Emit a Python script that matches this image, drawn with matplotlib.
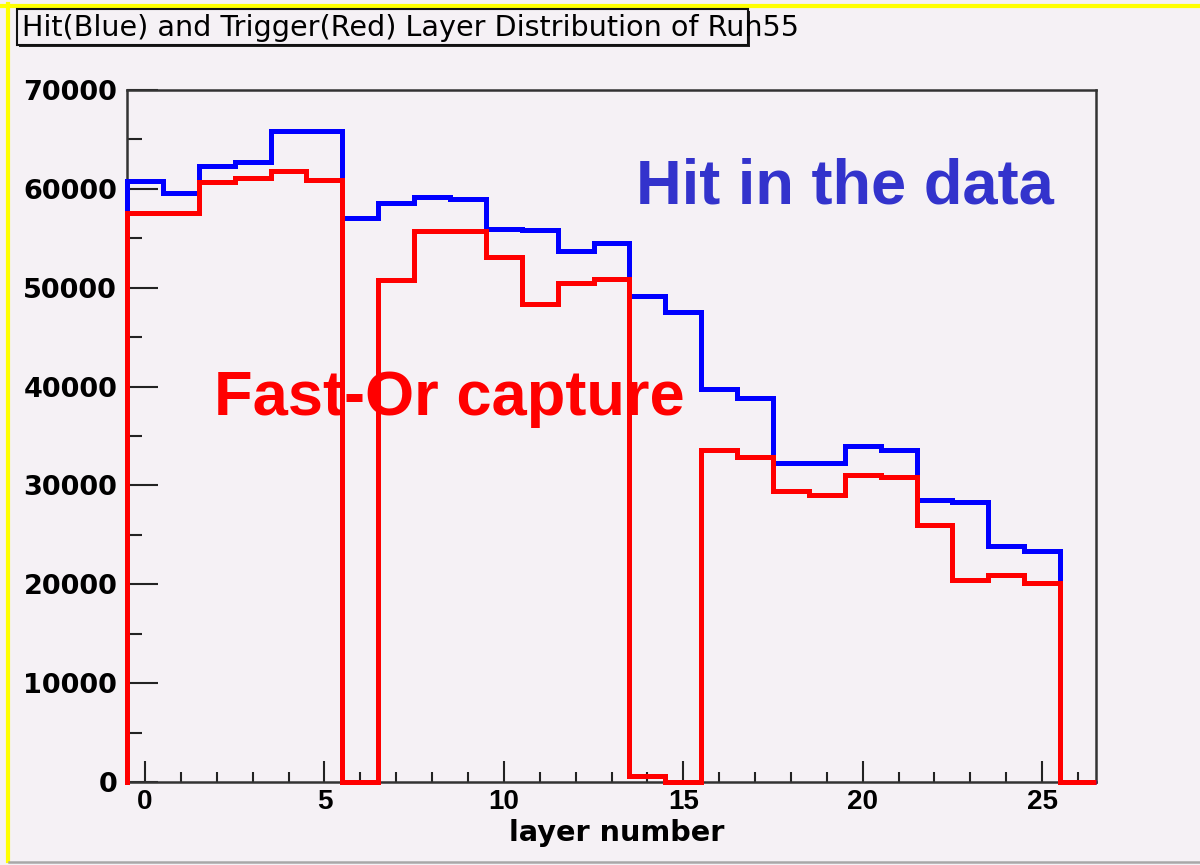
import numpy as np
import matplotlib
matplotlib.use("Agg")
import matplotlib.pyplot as plt
from matplotlib.patches import Rectangle
from matplotlib.lines import Line2D
from matplotlib.ticker import MultipleLocator
from matplotlib import font_manager

layers = list(range(27))
hit_blue = [60800, 59600, 62300, 62700, 65900, 65900, 57100, 58600, 59200, 59000,
            55900, 55800, 53700, 54500, 49200, 47500, 39800, 38800, 32300, 32300,
            34000, 33600, 28500, 28300, 23900, 23400, 0]
trig_red = [57600, 57600, 60700, 61100, 61800, 60900, 0, 50800, 55700, 55700,
            53100, 48400, 50500, 50900, 600, 0, 33600, 32900, 29400, 29000,
            31100, 30900, 26000, 20400, 20900, 20100, 0]
title = "Hit(Blue) and Trigger(Red) Layer Distribution of Run55"
xlabel = "layer number"
label_hit = "Hit in the data"
label_trig = "Fast-Or capture"
xticks = [0, 5, 10, 15, 20, 25]
yticks = [0, 10000, 20000, 30000, 40000, 50000, 60000, 70000]

# pick a narrow font if one is installed
narrow = "DejaVu Sans"
for cand in ["Liberation Sans Narrow", "DejaVu Sans Condensed"]:
    try:
        font_manager.findfont(font_manager.FontProperties(family=cand), fallback_to_default=False)
        narrow = cand
        break
    except Exception:
        pass

W, H = 1200, 865
bg = "#f5f1f5"
fig = plt.figure(figsize=(W / 100, H / 100), dpi=100, facecolor=bg)

def fx(px):
    return px / W

def fy(py):
    return 1 - py / H

ax = fig.add_axes([fx(127), fy(782), fx(1096) - fx(127), fy(90) - fy(782)])
ax.set_facecolor(bg)
edges = np.arange(len(layers) + 1) - 0.5
ax.stairs(hit_blue, edges, color="#0000ff", lw=3.6, baseline=None, clip_on=False, zorder=3)
ax.stairs(trig_red, edges, color="#ff0000", lw=3.6, baseline=None, clip_on=False, zorder=4)
ax.plot([edges[0], edges[0]], [0, hit_blue[0]], color="#0000ff", lw=3.6, clip_on=False, zorder=3)
ax.plot([edges[0], edges[0]], [0, trig_red[0]], color="#ff0000", lw=3.6, clip_on=False, zorder=4)

ax.set_xlim(edges[0], edges[-1])
ax.set_ylim(0, 70000)
ax.set_xticks(xticks)
ax.xaxis.set_minor_locator(MultipleLocator(1))
ax.set_yticks(yticks)
ax.yaxis.set_minor_locator(MultipleLocator(5000))
ax.set_xticklabels([str(t) for t in xticks], fontsize=20, fontweight="bold", family="Liberation Sans")
ax.set_yticklabels([str(t) for t in yticks], fontsize=19.5, fontweight="bold", family="DejaVu Sans")
ax.tick_params(axis="x", which="major", direction="in", length=15, width=1.5, pad=5, color="#222222")
ax.tick_params(axis="x", which="minor", direction="in", length=7, width=1.5, color="#222222")
ax.tick_params(axis="y", which="major", direction="in", length=22, width=1.5, pad=7, color="#222222")
ax.tick_params(axis="y", which="minor", direction="in", length=11, width=1.5, color="#222222")
for s in ax.spines.values():
    s.set_color("#333333")
    s.set_linewidth(1.8)

fig.text(fx(845), fy(187), label_hit, color="#3333cc", fontsize=45.5, fontweight="bold",
         family="Liberation Sans", ha="center", va="center")
fig.text(fx(449), fy(398), label_trig, color="#ff0000", fontsize=45.5, fontweight="bold",
         family="Liberation Sans", ha="center", va="center")

xl = fig.text(fx(617), fy(833), xlabel, fontsize=22, fontweight="bold", family=narrow,
              ha="center", va="center")

# title box with shadow
fig.patches.append(Rectangle((fx(19), fy(47)), fx(748) - fx(17), fy(9) - fy(45),
                             transform=fig.transFigure, facecolor="#222222", edgecolor="none", zorder=1))
fig.patches.append(Rectangle((fx(17), fy(45)), fx(748) - fx(17), fy(9) - fy(45),
                             transform=fig.transFigure, facecolor=bg, edgecolor="#111111", lw=1.5, zorder=2))
t = fig.text(fx(22), fy(28), title, fontsize=20, family=narrow, fontweight="medium",
             ha="left", va="center", zorder=5)
fig.canvas.draw()
bb = t.get_window_extent()
t.set_fontsize(20 * (798 - 22) / bb.width)
bx = xl.get_window_extent()
xl.set_fontsize(22 * 215 / bx.width)

# frame decorations
fig.add_artist(Line2D([0, 1], [fy(5.5), fy(5.5)], transform=fig.transFigure, color="#ffff00", lw=3))
fig.add_artist(Line2D([fx(7.5), fx(7.5)], [fy(4), fy(861)], transform=fig.transFigure, color="#ffff00", lw=3))
fig.add_artist(Line2D([fx(9), 1], [fy(862), fy(862)], transform=fig.transFigure, color="#a8a8a8", lw=1.8))

fig.savefig("out.png", dpi=100, facecolor=bg)
